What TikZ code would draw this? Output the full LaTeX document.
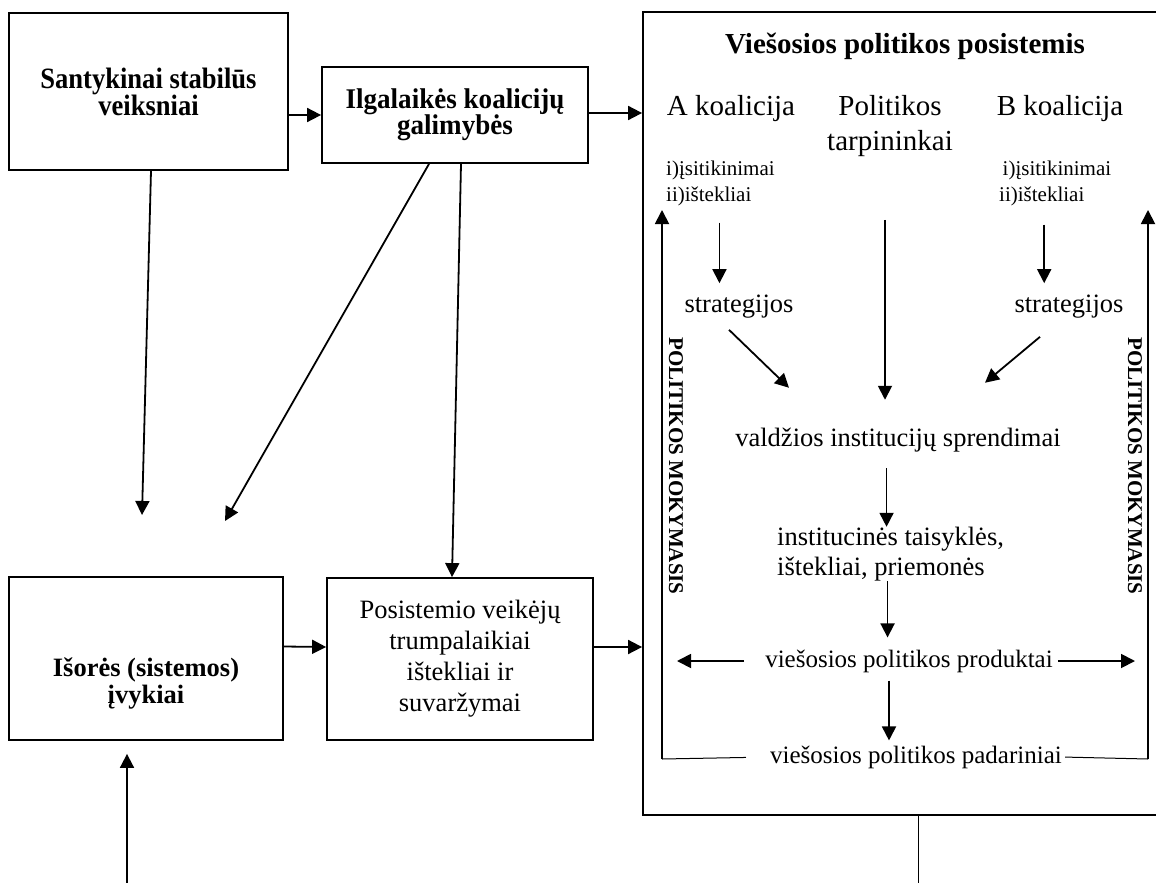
\documentclass[tikz,border=0pt]{standalone}
\usepackage{fontspec}
\setmainfont{Liberation Serif}
\newfontfamily\narrowserif[FakeStretch=0.9]{Liberation Serif}
\newfontfamily\slimserif[FakeStretch=0.95]{Liberation Serif}
\usepackage{tikz}
\usetikzlibrary{arrows.meta,positioning,calc}

\newcommand\headfont{\fontsize{29}{35}\selectfont\bfseries}
\newcommand\rowfont{\fontsize{29}{35}\selectfont}
\newcommand\bodyfont{\fontsize{26.5}{30}\selectfont}
\newcommand\flowfont{\fontsize{25}{30}\selectfont}
\newcommand\notefont{\fontsize{21}{26}\selectfont}
\newcommand\boxfont{\fontsize{26.5}{31}\selectfont}
\newcommand\learnfont{\fontsize{21}{25}\selectfont\bfseries}

\begin{document}
\begin{tikzpicture}[x=1pt, y=-1pt, >={Triangle[length=14pt, width=14pt]},
  box/.style={draw, line width=1.8pt, align=center, inner sep=0pt, font=\boxfont},
  txt/.style={inner sep=0pt, align=center},
  arr/.style={->, line width=1.8pt},
  thinline/.style={line width=1pt}]
  \useasboundingbox (0,0) rectangle (1156,883);

  % left column: boxes
  \node[box, font=\narrowserif\fontsize{29.5}{27}\selectfont\bfseries, minimum width=279pt, minimum height=157pt]
    (stable) at (148.5,91.5) {Santykinai stabilūs\\veiksniai};
  \node[box, font=\slimserif\fontsize{28.5}{26.5}\selectfont\bfseries, minimum width=266pt, minimum height=96pt]
    (longterm) at (455,115) {Ilgalaikės koalicijų\\galimybės};
  \node[box, minimum width=274pt, minimum height=163pt] (external) at (146,658.5) {};
  \node[txt, font=\fontsize{26.5}{27}\selectfont\bfseries] (externalText) at (146,684) {Išorės (sistemos)\\įvykiai};
  \node[box, minimum width=266pt, minimum height=162pt]
    (shortterm) at (460,659) {Posistemio veikėjų\\trumpalaikiai\\ištekliai ir\\suvaržymai};

  % subsystem frame
  \node[box, minimum width=540pt, minimum height=803pt] (subsys) at (913,413.5) {};
  \node[txt, font=\headfont] (title) at (905,46) {Viešosios politikos posistemis};
  \node[txt, font=\rowfont] (coalA) at (731,109) {A koalicija};
  \node[txt, font=\rowfont] (broker) at (890,126) {Politikos\\tarpininkai};
  \node[txt, font=\rowfont] (coalB) at (1060,109) {B koalicija};
  \node[txt, font=\notefont, align=left, anchor=west] (beliefA) at (666,183) {i)įsitikinimai\\ii)ištekliai};
  \node[txt, font=\notefont, align=left, anchor=west] (beliefB) at (999,183) {\,i)įsitikinimai\\ii)ištekliai};
  \node[txt, font=\bodyfont] (stratA) at (739,307) {strategijos};
  \node[txt, font=\bodyfont] (stratB) at (1069,307) {strategijos};
  \node[txt, font=\bodyfont] (decisions) at (898,440) {valdžios institucijų sprendimai};
  \node[txt, font=\bodyfont, align=left, anchor=west] (rules) at (777,554)
    {institucinės taisyklės,\\ištekliai, priemonės};
  \node[txt, font=\flowfont] (outputs) at (909,661) {viešosios politikos produktai};
  \node[txt, font=\flowfont] (impacts) at (916,757) {viešosios politikos padariniai};
  \node[txt, font=\learnfont, rotate=-90] (learnL) at (676,466) {POLITIKOS MOKYMASIS};
  \node[txt, font=\learnfont, rotate=-90] (learnR) at (1135,466) {POLITIKOS MOKYMASIS};

  % learning loop corners
  \coordinate (loopLtop) at (662,210);
  \coordinate (loopLbot) at (662,759);
  \coordinate (loopRtop) at (1148,210);
  \coordinate (loopRbot) at (1148,759);
  % free ends
  \coordinate (stableEnd) at (142,515);
  \coordinate (diagEnd) at (225,521);
  \coordinate (extIn) at (127,883);
  \coordinate (subOut) at (918,883);

  % outer connectors
  \draw[arr] (stable.east |- longterm.west) -- (longterm.west);
  \draw[arr] ([yshift=2pt]longterm.east) -- ([yshift=2pt]longterm.east -| subsys.west);
  \draw[arr] ([xshift=2.5pt]stable.south) -- (stableEnd);
  \draw[arr] ([xshift=-26pt]longterm.south) -- (diagEnd);
  \draw[arr] ([xshift=6pt]longterm.south) -- ([xshift=-8pt]shortterm.north);
  \draw[arr] ([yshift=12pt]external.east) -- ([yshift=12pt]shortterm.west);
  \draw[arr] ([yshift=12pt]shortterm.east) -- ([yshift=12pt]shortterm.east -| subsys.west);
  \draw[arr, shorten >=13pt] (extIn) -- (extIn |- external.south);
  \draw[thinline] (subOut |- subsys.south) -- (subOut);

  % inside the subsystem
  \draw[arr, shorten <=17pt, shorten >=12pt] ([xshift=-1pt]beliefA.south) -- ([xshift=-1pt]beliefA.south |- stratA.north);
  \draw[arr, shorten <=19pt, shorten >=12pt] ([xshift=-11pt]beliefB.south) -- ([xshift=-11pt]beliefB.south |- stratB.north);
  \draw[arr, shorten <=63pt, shorten >=28pt] ([xshift=-5pt]broker.south) -- ([xshift=-5pt]broker.south |- decisions.north);
  \draw[arr] ([shift={(-10,11)}]stratA.south) -- ([shift={(-109,-40)}]decisions.north);
  \draw[arr] ([shift={(-29,18)}]stratB.south) -- ([shift={(87,-45)}]decisions.north);
  \draw[arr, shorten <=16pt] ([xshift=-4pt]rules.north |- decisions.south) -- ([xshift=-4pt]rules.north);
  \draw[arr, shorten >=12pt] ([xshift=-3pt]rules.south) -- ([xshift=-3pt]rules.south |- outputs.north);
  \draw[arr, shorten <=8pt, shorten >=5pt] ([xshift=-20pt]outputs.south) -- ([xshift=-20pt]outputs.south |- impacts.north);
  \draw[arr, shorten <=21pt, shorten >=15pt] (outputs.west) -- (outputs.west -| loopLbot);
  \draw[arr, shorten <=5pt, shorten >=13pt] (outputs.east) -- (outputs.east -| loopRbot);

  % policy learning feedback
  \draw[thinline, shorten <=24pt] (impacts.west) -- (loopLbot);
  \draw[thinline, shorten <=3pt] (impacts.east) -- (loopRbot);
  \draw[arr] (loopLbot) -- (loopLtop);
  \draw[arr] (loopRbot) -- (loopRtop);
\end{tikzpicture}
\end{document}
